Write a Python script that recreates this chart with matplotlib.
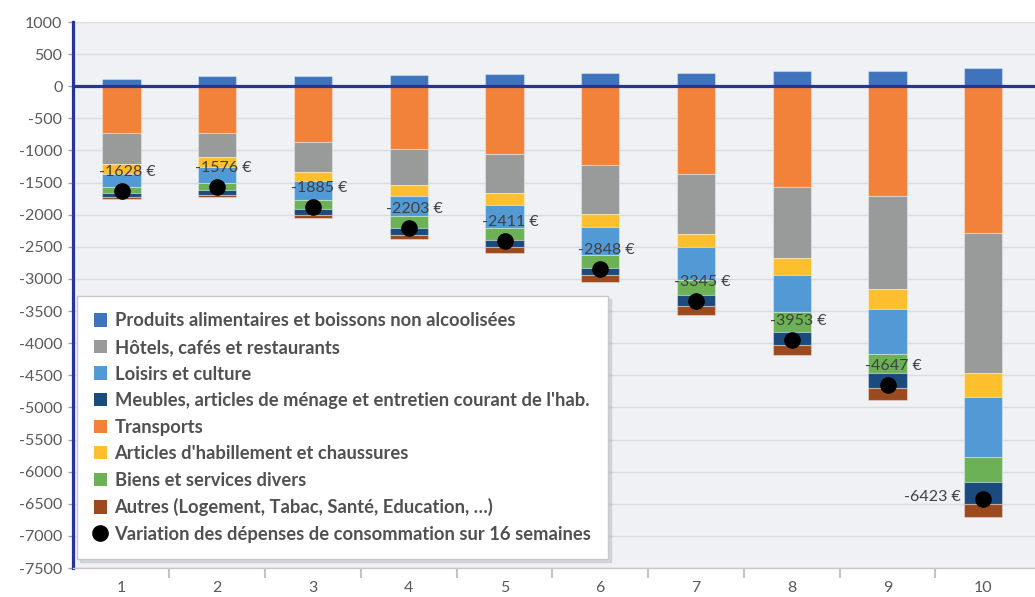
import matplotlib
matplotlib.use("Agg")
import matplotlib.pyplot as plt
from matplotlib.patches import Patch
from matplotlib.lines import Line2D
import numpy as np

plt.rcParams['font.family'] = ['Lato', 'DejaVu Sans']
plt.rcParams['axes.unicode_minus'] = False

categories = ["1", "2", "3", "4", "5", "6", "7", "8", "9", "10"]
produits = [120, 155, 166, 176, 186, 207, 212, 233, 243, 290]
transports = [-735, -730, -870, -975, -1050, -1225, -1360, -1570, -1715, -2283]
hotels = [-475, -373, -471, -565, -610, -766, -934, -1104, -1436, -2179]
articles = [-150, -150, -140, -166, -187, -196, -212, -259, -321, -378]
loisirs = [-215, -248, -285, -321, -362, -434, -513, -579, -693, -927]
biens = [-90, -114, -145, -181, -181, -208, -238, -321, -306, -393]
meubles = [-58, -78, -88, -104, -114, -117, -160, -198, -222, -337]
autres = [-25, -38, -52, -67, -93, -109, -140, -155, -197, -216]
variation = [-1628, -1576, -1885, -2203, -2411, -2848, -3345, -3953, -4647, -6423]

names = {
    'produits': "Produits alimentaires et boissons non alcoolisées",
    'hotels': "Hôtels, cafés et restaurants",
    'loisirs': "Loisirs et culture",
    'meubles': "Meubles, articles de ménage et entretien courant de l'hab.",
    'transports': "Transports",
    'articles': "Articles d'habillement et chaussures",
    'biens': "Biens et services divers",
    'autres': "Autres (Logement, Tabac, Santé, Education, …)",
}
var_name = "Variation des dépenses de consommation sur 16 semaines"

colors = {
    'produits': '#3F74BD',
    'hotels': '#999B9B',
    'loisirs': '#529AD6',
    'meubles': '#1B4B7D',
    'transports': '#F2823A',
    'articles': '#FDBF2D',
    'biens': '#6CB155',
    'autres': '#9B4A20',
}

fig = plt.figure(figsize=(10.35, 5.97), dpi=100)
fig.patch.set_facecolor('white')
ax = fig.add_axes([73/1035, 1-568/597, (1035-73)/1035, (568-22)/597])
ax.set_facecolor('#F0F1F4')

x = np.arange(1, len(categories) + 1)
w = 0.40
edge = dict(edgecolor=(1, 1, 1, 0.35), linewidth=0.8)

ax.bar(x, produits, w, color=colors['produits'], zorder=2, **edge)
neg_series = [('transports', transports), ('hotels', hotels), ('articles', articles),
              ('loisirs', loisirs), ('biens', biens), ('meubles', meubles), ('autres', autres)]
bottom = np.zeros(len(x))
for key, vals in neg_series:
    vals = np.array(vals, dtype=float)
    ax.bar(x, vals, w, bottom=bottom, color=colors[key], zorder=2, **edge)
    bottom = bottom + vals

ax.scatter(x, variation, s=120, color='black', zorder=5)

for i, v in enumerate(variation):
    if i == len(variation) - 1:
        ax.annotate(f"{v} €", (x[i], v), xytext=(-16.5, 1), textcoords='offset points',
                    ha='right', va='center', fontsize=11.5, color='#404040', zorder=6)
    else:
        ax.annotate(f"{v} €", (x[i], v), xytext=(4.3, 13.8), textcoords='offset points',
                    ha='center', va='center', fontsize=11.5, color='#404040', zorder=6)

ax.axhline(0, color='#283593', linewidth=2.3, zorder=4)

ax.set_ylim(-7500, 1000)
ax.set_xlim(0.493, 10.54)
ax.set_yticks(np.arange(-7500, 1001, 500))
ax.yaxis.grid(True, color='#DCDCDE', linewidth=1.0, zorder=0)
ax.set_axisbelow(True)

ax.set_xticks(x)
ax.set_xticklabels(categories)
ax.set_xticks(np.arange(1.5, 10.5, 1.0), minor=True)
ax.tick_params(axis='x', which='major', length=0, pad=9, labelsize=11.5, labelcolor='#595959')
ax.tick_params(axis='x', which='minor', length=7.5, width=1.5, color='#C4C4C4', direction='out')
ax.tick_params(axis='y', length=3.6, width=1, color='#A0A0A0', pad=4, labelsize=11.5,
               labelcolor='#595959')

for s in ['top', 'right']:
    ax.spines[s].set_visible(False)
ax.spines['left'].set_color('#283593')
ax.spines['left'].set_linewidth(2.3)
ax.spines['bottom'].set_color('#C8C8C8')
ax.spines['bottom'].set_linewidth(1.0)

order = ['produits', 'hotels', 'loisirs', 'meubles', 'transports', 'articles', 'biens', 'autres']
handles = [Patch(facecolor=colors[k], edgecolor='none') for k in order]
labels = [names[k] for k in order]
handles.append(Line2D([], [], marker='o', linestyle='none', color='black', markersize=11))
labels.append(var_name)

leg = ax.legend(handles, labels, loc='upper left', bbox_to_anchor=(77/1035, 1-296/597),
                bbox_transform=fig.transFigure, borderaxespad=0, frameon=True, fancybox=False,
                prop={'family': ['Lato', 'DejaVu Sans'], 'weight': 'bold', 'size': 13.2},
                handlelength=0.75, handleheight=0.75, handletextpad=0.4, labelspacing=0.52,
                borderpad=0.9, shadow={'color': '#8890A0', 'alpha': 0.25})
leg.get_frame().set_edgecolor('#C8C8C8')
leg.get_frame().set_linewidth(1.0)
leg.get_frame().set_facecolor('white')
leg.set_zorder(10)
for t in leg.get_texts():
    t.set_color('#505050')

fig.savefig('out.png', dpi=100)
